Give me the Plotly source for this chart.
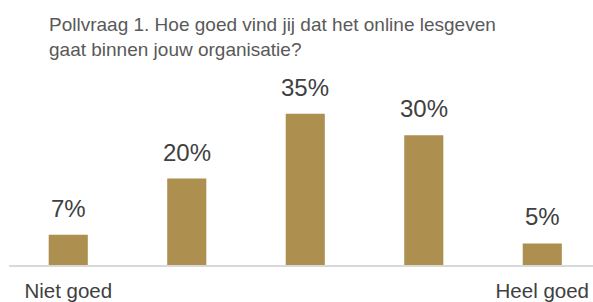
import plotly.graph_objects as go

categories = ["Niet goed", "Matig", "Neutraal", "Goed", "Heel goed"]
tick_labels = ["Niet goed", "", "", "", "Heel goed"]
values = [7, 20, 35, 30, 5]
title_text = "Pollvraag 1. Hoe goed vind jij dat het online lesgeven<br>gaat binnen jouw organisatie?"

FONT = "Liberation Sans, Arial, Helvetica, sans-serif"
BAR = "#AD9050"

fig = go.Figure()
fig.add_trace(go.Bar(
    x=categories, y=values,
    marker=dict(color=BAR, line=dict(width=0)),
    width=0.33,
    hoverinfo="skip",
))

for c, v in zip(categories, values):
    fig.add_annotation(
        x=c, y=v, text=f"{v}%", showarrow=False,
        yanchor="bottom", yshift=11,
        font=dict(family=FONT, size=24, color="#404040"),
    )

# chart title as an annotation for exact placement
fig.add_annotation(
    text=title_text, xref="paper", yref="paper",
    x=(47 - 9) / 584, y=(265 - 12) / 185,
    xanchor="left", yanchor="top", align="left", showarrow=False,
    font=dict(family=FONT, size=19, color="#595959"),
)

fig.update_layout(
    width=593, height=302,
    margin=dict(l=9, r=0, t=80, b=37, autoexpand=False),
    paper_bgcolor="white", plot_bgcolor="white",
    showlegend=False,
    xaxis=dict(
        type="category", range=[-0.5, 4.428], automargin=False,
        tickmode="array", tickvals=categories, ticktext=tick_labels,
        showline=True, linecolor="#D9D9D9", linewidth=2,
        showgrid=False, ticks="", ticklabelstandoff=6,
        tickfont=dict(family=FONT, size=20.5, color="#404040"),
        fixedrange=True,
    ),
    yaxis=dict(
        range=[0, 42.8], visible=False, showgrid=False, zeroline=False,
        automargin=False, fixedrange=True,
    ),
)

fig.write_html(
    "out.html",
    config={"displayModeBar": False},
    post_script="document.body.style.margin='0';document.body.style.overflow='hidden';",
)
